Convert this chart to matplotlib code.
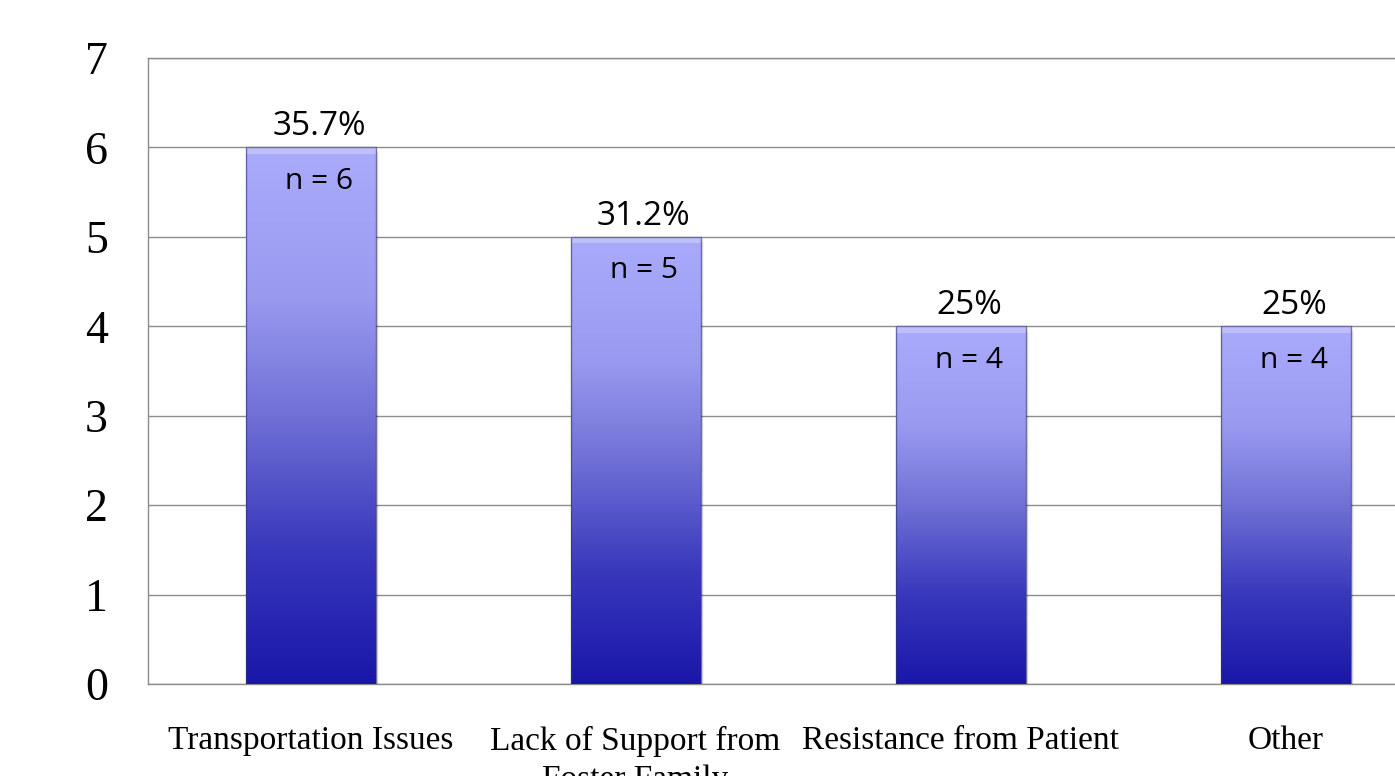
import numpy as np
import matplotlib.pyplot as plt
from matplotlib.colors import LinearSegmentedColormap
from matplotlib.patches import Rectangle

categories = ["Transportation Issues", "Lack of Support from\nFoster Family",
              "Resistance from Patient", "Other"]
counts = [6, 5, 4, 4]
percent_labels = ["35.7%", "31.2%", "25%", "25%"]
yticks = [0, 1, 2, 3, 4, 5, 6, 7]

serif = "Liberation Serif"
sans = ["Open Sans", "DejaVu Sans"]

fig = plt.figure(figsize=(13.95, 7.76), dpi=100)
ax = fig.add_axes([148 / 1395, 92 / 776, 1300 / 1395, 626 / 776])

x = np.arange(len(categories))
width = 0.4

ax.set_xlim(-0.5, len(categories) - 0.5)
ax.set_ylim(0, 7)
ax.set_yticks(yticks)
ax.set_yticklabels([str(t) for t in yticks], fontfamily=serif, fontsize=33)
ax.set_xticks(x)
ax.set_xticklabels(categories, fontfamily=serif, fontsize=24, linespacing=1.35)
ax.tick_params(axis="both", length=0)
ax.tick_params(axis="y", pad=37)
ax.tick_params(axis="x", pad=30)
for lab in ax.get_yticklabels():
    lab.set_horizontalalignment("center")
ax.yaxis.grid(True, color="#8c8c8c", linewidth=1.0)
ax.set_axisbelow(True)
for side in ["left", "bottom", "top", "right"]:
    ax.spines[side].set_color("#8c8c8c")
    ax.spines[side].set_linewidth(1.0)

cmap = LinearSegmentedColormap.from_list(
    "barfill",
    [(0.0, (0.10, 0.09, 0.66)),
     (0.25, (0.22, 0.22, 0.74)),
     (0.5, (0.44, 0.44, 0.84)),
     (0.72, (0.60, 0.60, 0.94)),
     (1.0, (0.67, 0.67, 0.99))])
grad = np.linspace(0, 1, 256).reshape(-1, 1)

for xi, c in zip(x, counts):
    left = xi - width / 2
    # soft drop shadow
    for k, a in enumerate([0.10, 0.07, 0.04]):
        sh = Rectangle((left + 0.004 * (k + 1), -0.02 * (k + 1)), width, c,
                       facecolor="black", alpha=a, edgecolor="none", zorder=2)
        ax.add_patch(sh)
    rect = Rectangle((left, 0), width, c, facecolor="none",
                     edgecolor=(0.2, 0.2, 0.45, 0.6), linewidth=1.0, zorder=4)
    ax.add_patch(rect)
    im = ax.imshow(grad, cmap=cmap, origin="lower", aspect="auto",
                   extent=[left, left + width, 0, c], zorder=3,
                   interpolation="bicubic")
    im.set_clip_path(rect)
    # bevel highlight at top
    ax.add_patch(Rectangle((left, c - 0.07), width, 0.07,
                           facecolor="white", alpha=0.25, edgecolor="none", zorder=3.5))

for xi, c, p in zip(x, counts, percent_labels):
    ax.annotate(p, (xi, c), xytext=(6, 3), textcoords="offset points",
                ha="center", va="bottom", fontsize=24, family=sans, zorder=5)
    ax.annotate(f"n = {c}", (xi, c), xytext=(6, -14), textcoords="offset points",
                ha="center", va="top", fontsize=21.5, family=sans, zorder=5)

fig.savefig("out.png", dpi=100)
